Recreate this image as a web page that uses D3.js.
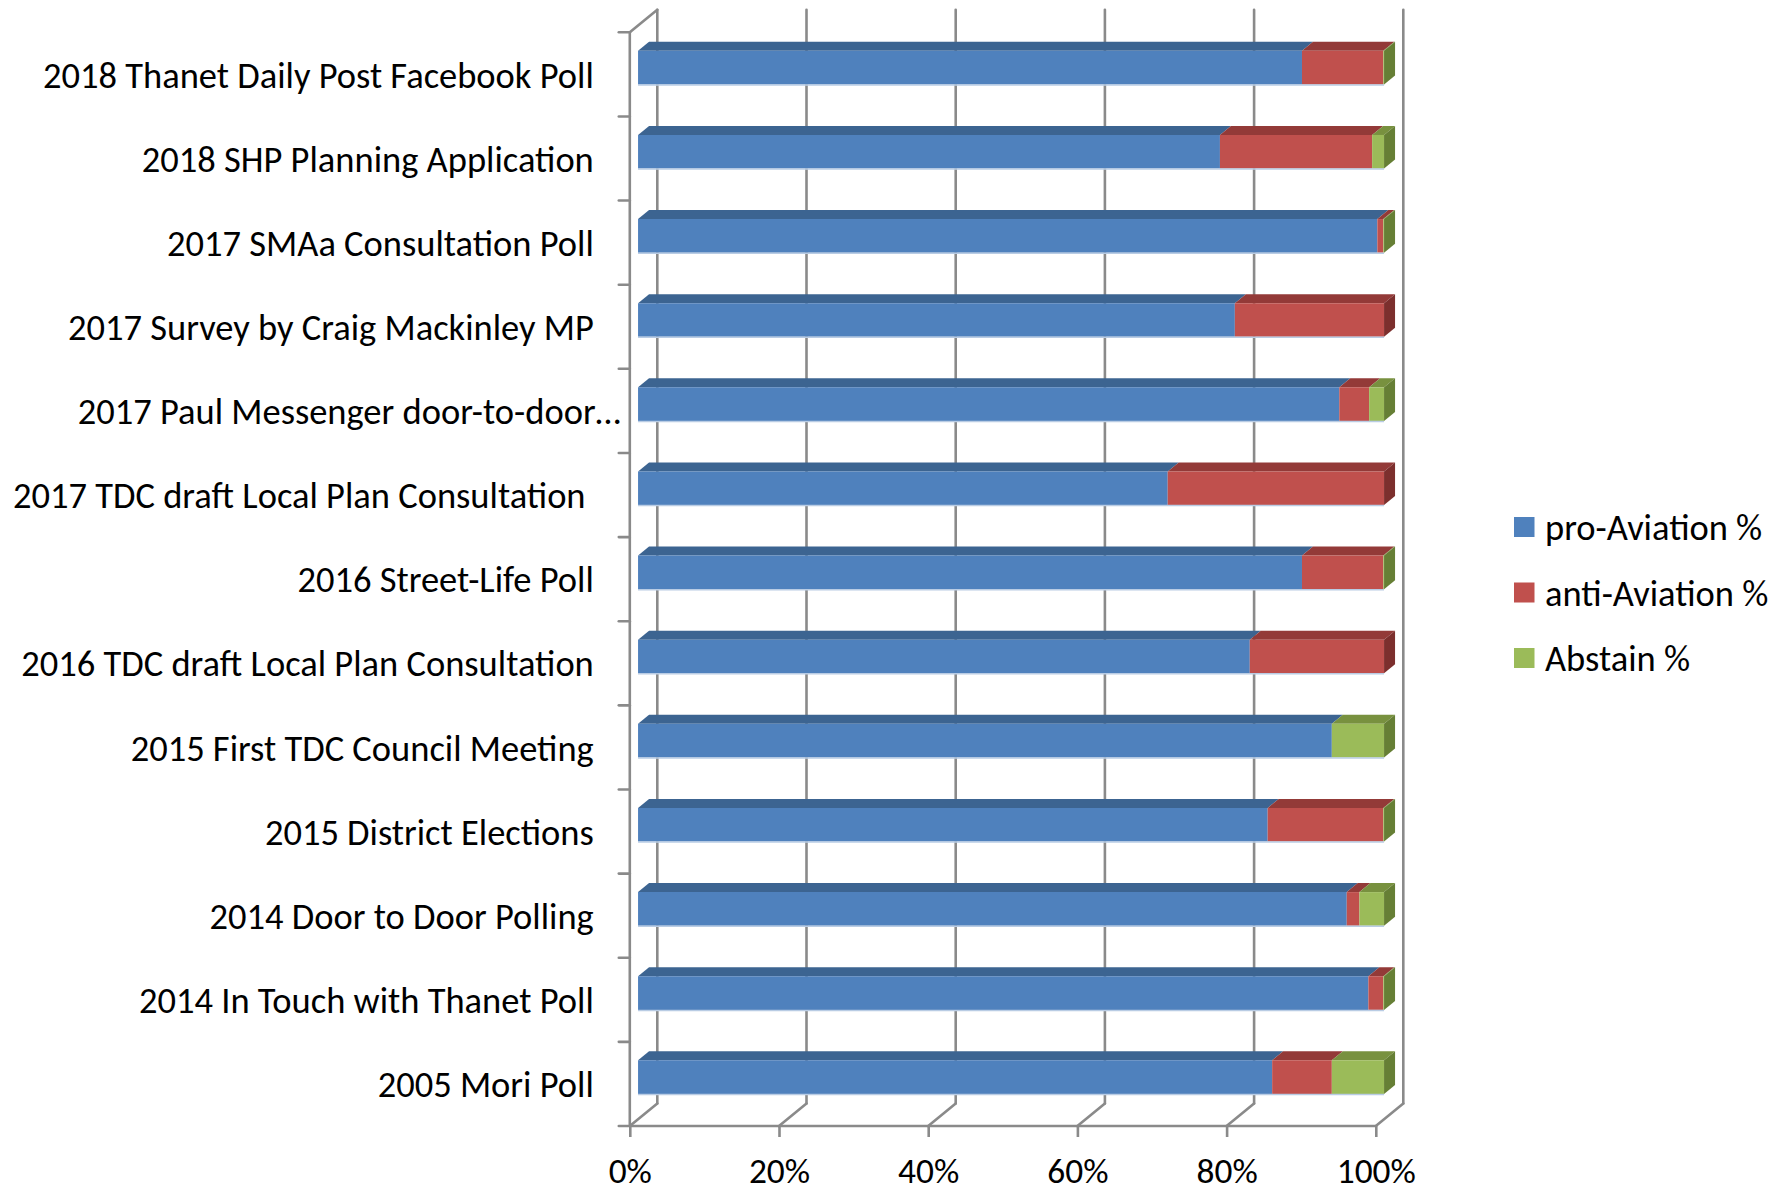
<!DOCTYPE html>
<html>
<head>
<meta charset="utf-8">
<script src="https://cdn.jsdelivr.net/npm/d3@7.9.0/dist/d3.min.js"></script>
<style>
  html, body { margin: 0; padding: 0; background: #fff; }
  svg { display: block; }
  text { font-family: Carlito, Calibri, Lato, "Open Sans", sans-serif; fill: #000; }
</style>
</head>
<body>
<svg id="chart" width="1783" height="1192"></svg>
<script>
// polls, top to bottom as in the chart
const categories = [
  "2018 Thanet Daily Post Facebook Poll",
  "2018 SHP Planning Application",
  "2017 SMAa Consultation Poll",
  "2017 Survey by Craig Mackinley MP",
  "2017 Paul Messenger door-to-door\u2026",
  "2017 TDC draft Local Plan Consultation ",
  "2016 Street-Life Poll",
  "2016 TDC draft Local Plan Consultation",
  "2015 First TDC Council Meeting",
  "2015 District Elections",
  "2014 Door to Door Polling",
  "2014 In Touch with Thanet Poll",
  "2005 Mori Poll"
];
const proAviation  = [89, 78, 99.1, 80, 94, 71, 89, 82, 93, 84.4, 95, 97.9, 85];
const antiAviation = [10.9, 20.4, 0.8, 20, 4, 29, 10.9, 18, 0, 15.5, 1.7, 2, 8];
const abstain      = [0.1, 1.6, 0.1, 0, 2, 0, 0.1, 0, 7, 0.1, 3.3, 0.1, 7];

const seriesNames = ["pro-Aviation %", "anti-Aviation %", "Abstain %"];
const tickValues = [0, 0.2, 0.4, 0.6, 0.8, 1];

// colours: front, top, side
const faceColors = [
  { front: "#4f81bd", top: "#3c6491", side: "#36587f" },
  { front: "#c0504d", top: "#933a38", side: "#7c2f2d" },
  { front: "#9bbb59", top: "#78913f", side: "#667f35" }
];

const svg = d3.select("#chart");
svg.append("rect").attr("width", 1783).attr("height", 1192).attr("fill", "#fff");

// 3d frame
const frontLeft = 629.8, plotW = 746, plotTop = 32.3, plotBottom = 1126;
const DX = 27.5, DY = 22.5;
const d0 = 0.3, d1 = 0.7; // bar depth range

const x = d3.scaleLinear().domain([0, 1]).range([frontLeft, frontLeft + plotW]);
const y = d3.scaleBand().domain(categories).range([plotTop, plotBottom])
  .paddingInner(0.6).paddingOuter(0.3);

const P = (v, yy, d) => [x(v) + d * DX, yy - d * DY];
const poly = pts => "M" + pts.map(p => p.join(",")).join("L") + "Z";

// font size: fit the longest label to its width in the original
const probe = svg.append("text").attr("font-size", 36).text(categories[0]);
const fs = 36 * 551 / probe.node().getComputedTextLength();
probe.remove();

const gridColor = "#8a8a8a";
const frame = svg.append("g").attr("stroke", gridColor).attr("stroke-width", 2.6)
  .attr("fill", "none").attr("stroke-linecap", "round");

// back wall gridlines
tickValues.forEach(t => {
  const a = P(t, plotTop, 1), b = P(t, plotBottom, 1);
  frame.append("line").attr("x1", a[0]).attr("y1", a[1]).attr("x2", b[0]).attr("y2", b[1]);
  // floor slants
  const c = P(t, plotBottom, 0);
  frame.append("line").attr("x1", b[0]).attr("y1", b[1]).attr("x2", c[0]).attr("y2", c[1]);
});
// left wall front edge and top slant
frame.append("line").attr("x1", x(0)).attr("y1", plotTop).attr("x2", x(0)).attr("y2", plotBottom);
const wt = P(0, plotTop, 1);
frame.append("line").attr("x1", x(0)).attr("y1", plotTop).attr("x2", wt[0]).attr("y2", wt[1]);

// left wall ticks at category boundaries
d3.range(categories.length + 1).forEach(i => {
  const yy = plotTop + i * y.step();
  frame.append("line").attr("x1", x(0) - 11).attr("x2", x(0)).attr("y1", yy).attr("y2", yy);
});

// bottom axis on the floor front edge
const xAxis = d3.axisBottom(x).tickValues(tickValues).tickFormat(d3.format(".0%")).tickSize(11);
const axisG = svg.append("g").attr("transform", `translate(0,${plotBottom})`).call(xAxis);
axisG.select(".domain").attr("stroke", gridColor).attr("stroke-width", 2.6).attr("d", `M${x(0)},0H${x(1)}`);
axisG.selectAll(".tick line").attr("stroke", gridColor).attr("stroke-width", 2.6);
axisG.selectAll(".tick text").attr("y", 44).attr("dy", "0.36em")
  .attr("font-size", fs * 0.97).attr("font-family", null).attr("fill", "#000");

// stacked data
const rows = categories.map((c, i) => ({ cat: c, p: proAviation[i], a: antiAviation[i], s: abstain[i] }));
const stack = d3.stack().keys(["p", "a", "s"]).offset(d3.stackOffsetExpand);
const stacked = stack(rows);

const bars = svg.append("g");
rows.forEach((r, i) => {
  const yt = y(r.cat), yb = yt + y.bandwidth();
  const g = bars.append("g");
  let lastIdx = -1;
  stacked.forEach((s, k) => { if (s[i][1] - s[i][0] > 0) lastIdx = k; });
  stacked.forEach((s, k) => {
    const v0 = s[i][0], v1 = s[i][1];
    if (v1 - v0 <= 0) return;
    const col = faceColors[k];
    // top face
    g.append("path").attr("fill", col.top)
      .attr("d", poly([P(v0, yt, d0), P(v1, yt, d0), P(v1, yt, d1), P(v0, yt, d1)]));
    // front face
    g.append("path").attr("fill", col.front)
      .attr("d", poly([P(v0, yt, d0), P(v1, yt, d0), P(v1, yb, d0), P(v0, yb, d0)]));
    // end face
    if (k === lastIdx) {
      g.append("path").attr("fill", col.side)
        .attr("d", poly([P(v1, yt, d0), P(v1, yt, d1), P(v1, yb, d1), P(v1, yb, d0)]));
    }
  });
  // light edge under the front face
  const e0 = P(0, yb, d0), e1 = P(1, yb, d0);
  g.append("line").attr("x1", e0[0]).attr("x2", e1[0]).attr("y1", e0[1] + 0.5).attr("y2", e1[1] + 0.5)
    .attr("stroke", "#b9cce4").attr("stroke-width", 1.5);
});

// category labels
svg.append("g").selectAll("text").data(categories).join("text")
  .attr("x", d => d.endsWith("\u2026") ? x(0) - 9 : x(0) - 36)
  .attr("y", d => y(d) + y.bandwidth() / 2)
  .attr("dy", "0.36em")
  .attr("text-anchor", "end")
  .attr("font-size", fs)
  .style("white-space", "pre")
  .text(d => d);

// legend
const legend = svg.append("g").attr("transform", "translate(1514,527)");
seriesNames.forEach((name, k) => {
  const lg = legend.append("g").attr("transform", `translate(0,${k * 65.5})`);
  lg.append("rect").attr("x", 0).attr("y", -10).attr("width", 20.5).attr("height", 20)
    .attr("fill", faceColors[k].front);
  lg.append("text").attr("x", 31).attr("y", 0).attr("dy", "0.36em")
    .attr("font-size", fs).text(name);
});
</script>
</body>
</html>
